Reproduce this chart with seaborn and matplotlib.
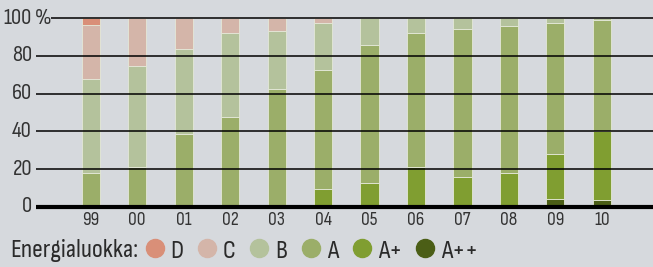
import warnings
warnings.filterwarnings("ignore")
import numpy as np
import seaborn as sns
import matplotlib
import matplotlib.pyplot as plt
from matplotlib.lines import Line2D

years = ['99', '00', '01', '02', '03', '04', '05', '06', '07', '08', '09', '10']
a_pp = [0, 0, 0, 0, 0, 0, 0, 0, 0, 1.0, 4.4, 3.5]
a_p = [0, 0, 0, 0, 0, 9.7, 12.7, 21.2, 15.9, 17.2, 23.9, 36.9]
a = [18.2, 21.2, 38.9, 47.4, 62.3, 63.0, 73.3, 70.8, 78.3, 77.4, 68.9, 58.4]
b = [49.8, 53.5, 44.6, 44.6, 30.8, 24.5, 14.0, 8.0, 5.8, 4.4, 2.8, 1.2]
c = [28.6, 25.3, 16.5, 8.0, 6.9, 2.8, 0, 0, 0, 0, 0, 0]
d = [3.4, 0, 0, 0, 0, 0, 0, 0, 0, 0, 0, 0]
classes = ['D', 'C', 'B', 'A', 'A+', 'A++']
y_ticks = [0, 20, 40, 60, 80, 100]

colors = {'D': '#d98f78', 'C': '#d4b5a9', 'B': '#b4c29c',
          'A': '#9bae69', 'A+': '#809e31', 'A++': '#4b5e16'}
series = [('A++', a_pp), ('A+', a_p), ('A', a), ('B', b), ('C', c), ('D', d)]

sns.set_style('white')
plt.rcParams['font.family'] = ['Sofia Sans Condensed', 'DejaVu Sans']
bg = '#d6d9dd'
txt = '#2a2a2a'

fig = plt.figure(figsize=(6.53, 2.67), dpi=100, facecolor=bg)
ax = fig.add_axes([0.055, 0.225, 0.945, 0.721])
ax.set_facecolor('none')

# stacked bars, bottom class first
bottom = np.zeros(len(years))
for name, vals in series:
    sns.barplot(x=years, y=vals, bottom=bottom, color=colors[name], width=0.39,
                saturation=1, edgecolor='#e4e8d8', linewidth=0.6, ax=ax)
    bottom = bottom + np.array(vals)

ax.set_xlim(-1.18, 12.1)
ax.set_ylim(0, 102)
for v in y_ticks[1:]:
    xmin = -0.86 if v == 100 else -1.18
    ax.hlines(v, xmin, 12.1, color='black', lw=1.1, zorder=3)
ax.hlines(0, -1.18, 12.1, color='black', lw=3, zorder=4, clip_on=False)

for sp in ax.spines.values():
    sp.set_visible(False)
ax.set_yticks([])
ax.tick_params(axis='x', length=0, pad=3, labelsize=14, labelcolor='#333333')

trans = matplotlib.transforms.blended_transform_factory(fig.transFigure, ax.transData)
for v in y_ticks:
    ax.text(32 / 653, v, str(v), transform=trans, ha='right', va='center',
            fontsize=16.5, color='#333333')
ax.text(35 / 653, 100, '%', transform=trans, ha='left', va='center',
        fontsize=16.5, color='#333333')

fig.text(10 / 653, 0.06, 'Energialuokka:', ha='left', va='center',
         fontsize=19, color=txt)
handles = [Line2D([], [], marker='o', ls='', markersize=13, color=colors[k]) for k in classes]
fig.legend(handles, classes, loc='center left', bbox_to_anchor=(144 / 653, 0.06),
           ncol=6, frameon=False, fontsize=19, handletextpad=0.2,
           columnspacing=0.5, handlelength=0.8, borderpad=0, borderaxespad=0,
           labelcolor=txt)

fig.savefig('out.png', dpi=100, facecolor=bg)
